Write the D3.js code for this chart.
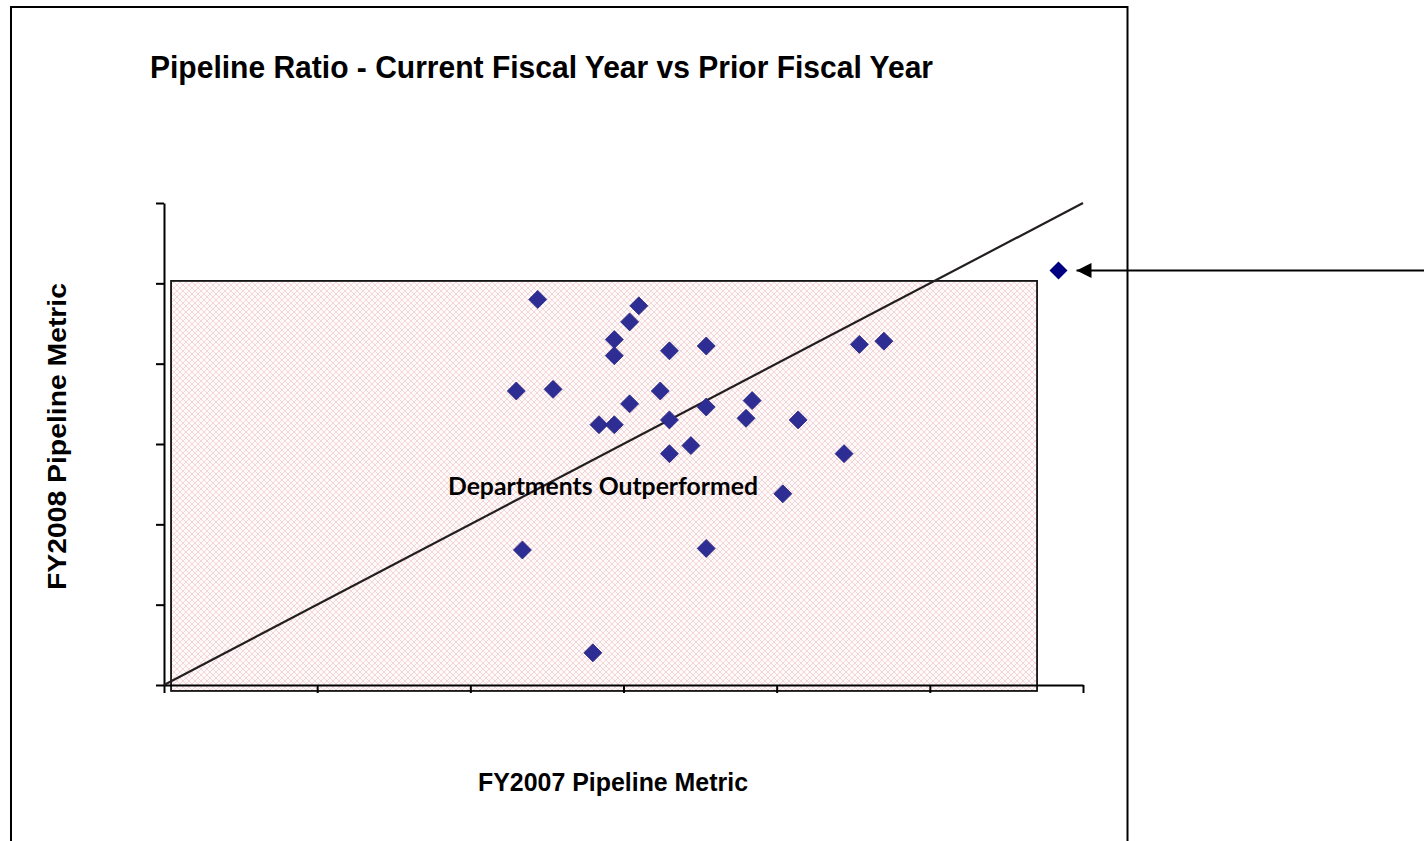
<!DOCTYPE html>
<html>
<head>
<meta charset="utf-8">
<script src="https://cdn.jsdelivr.net/npm/d3@7"></script>
<style>
  html, body { margin: 0; padding: 0; background: #fff; }
  svg { display: block; }
</style>
</head>
<body>
<svg id="chart" width="1424" height="841"></svg>
<script>
// Department pipeline ratios: prior fiscal year (FY2007) vs current (FY2008)
const departments = [
  "D01","D02","D03","D04","D05","D06","D07","D08","D09","D10",
  "D11","D12","D13","D14","D15","D16","D17","D18","D19","D20",
  "D21","D22","D23","D24","D25","D26","D27"
];
const fy2007 = [
  1.22, 1.55, 1.52, 1.47, 1.47, 1.65, 1.77, 2.27, 2.35, 1.15,
  1.27, 1.62, 1.52, 1.77, 1.92, 1.42, 1.47, 1.65, 1.90, 2.07,
  1.72, 1.65, 2.22, 2.02, 1.17, 1.77, 1.40
];
const fy2008 = [
  2.40, 2.36, 2.26, 2.15, 2.05, 2.08, 2.11, 2.12, 2.14, 1.83,
  1.84, 1.83, 1.75, 1.73, 1.77, 1.62, 1.62, 1.65, 1.66, 1.65,
  1.49, 1.44, 1.44, 1.19, 0.84, 0.85, 0.20
];
// Highlighted department, called out with an arrow
const highlightX = [2.92];
const highlightY = [2.58];

// Axis ticks (labels are not shown on the axes)
const xTicks = [0, 0.5, 1, 1.5, 2, 2.5, 3];
const yTicks = [0, 0.5, 1, 1.5, 2, 2.5, 3];

// Shaded band in data units: [x0, x1, y0, y1]
const bandExtent = [0.023, 2.85, -0.037, 2.515];

const titleText = "Pipeline Ratio - Current Fiscal Year vs Prior Fiscal Year";
const xLabelText = "FY2007 Pipeline Metric";
const yLabelText = "FY2008 Pipeline Metric";
const bandLabelText = "Departments Outperformed";

const svg = d3.select("#chart");

const x = d3.scaleLinear().domain([0, 3]).range([164, 1083]);
const y = d3.scaleLinear().domain([0, 3]).range([685, 203]);

// Cross-hatch fill for the shaded band
const defs = svg.append("defs");
const pat = defs.append("pattern")
  .attr("id", "hatch")
  .attr("patternUnits", "userSpaceOnUse")
  .attr("width", 6).attr("height", 6);
pat.append("rect").attr("width", 6).attr("height", 6).attr("fill", "#fffafa");
pat.append("path")
  .attr("d", "M0,0 L6,6 M6,0 L0,6")
  .attr("stroke", "#f5d6d8")
  .attr("stroke-width", 1)
  .attr("fill", "none");

// Outer frame (open at the bottom edge of the page)
svg.append("rect")
  .attr("x", 11).attr("y", 7)
  .attr("width", 1116.5).attr("height", 900)
  .attr("fill", "none")
  .attr("stroke", "#000")
  .attr("stroke-width", 2);

// Title
svg.append("text")
  .attr("x", 150).attr("y", 78)
  .attr("textLength", 783)
  .attr("lengthAdjust", "spacingAndGlyphs")
  .style("font-family", "'Liberation Sans', Arial, sans-serif")
  .style("font-weight", "bold")
  .style("font-size", "32px")
  .attr("fill", "#000")
  .text(titleText);

// Shaded band
svg.append("rect")
  .attr("x", x(bandExtent[0]))
  .attr("y", y(bandExtent[3]))
  .attr("width", x(bandExtent[1]) - x(bandExtent[0]))
  .attr("height", y(bandExtent[2]) - y(bandExtent[3]))
  .attr("fill", "url(#hatch)")
  .attr("stroke", "#111")
  .attr("stroke-width", 1.8);

// Axes
const yAxis = d3.axisLeft(y).tickValues(yTicks).tickSize(8).tickSizeOuter(0).tickFormat("");
const xAxis = d3.axisBottom(x).tickValues(xTicks).tickSize(8).tickSizeOuter(0).tickFormat("");

const gy = svg.append("g").attr("transform", `translate(${x(0)},0)`).call(yAxis);
const gx = svg.append("g").attr("transform", `translate(0,${y(0)})`).call(xAxis);
[gx, gy].forEach(g => {
  g.selectAll("path.domain").attr("stroke", "#000").attr("stroke-width", 2);
  g.selectAll(".tick line").attr("stroke", "#000").attr("stroke-width", 2);
});

// Parity line y = x
svg.append("line")
  .attr("x1", x(0)).attr("y1", y(0))
  .attr("x2", x(3)).attr("y2", y(3))
  .attr("stroke", "#231f20")
  .attr("stroke-width", 2.2);

// Band label
svg.append("text")
  .attr("x", 448).attr("y", 495)
  .attr("textLength", 310)
  .attr("lengthAdjust", "spacingAndGlyphs")
  .style("font-family", "Lato, 'Open Sans', sans-serif")
  .style("font-weight", "bold")
  .style("font-size", "24px")
  .attr("fill", "#000")
  .text(bandLabelText);

// Diamond markers
const diamond = r => `M0,${-r} L${r},0 L0,${r} L${-r},0 Z`;

svg.append("g")
  .selectAll("path")
  .data(departments.map((d, i) => ({ name: d, a: fy2007[i], b: fy2008[i] })))
  .join("path")
  .attr("transform", d => `translate(${x(d.a)},${y(d.b)})`)
  .attr("d", diamond(9))
  .attr("fill", "#2d2d94")
  .attr("stroke", "#262682")
  .attr("stroke-width", 0.8);

svg.append("g")
  .selectAll("path")
  .data(highlightX.map((v, i) => ({ a: v, b: highlightY[i] })))
  .join("path")
  .attr("transform", d => `translate(${x(d.a)},${y(d.b)})`)
  .attr("d", diamond(9))
  .attr("fill", "#000080");

// Call-out arrow pointing at the highlighted department
defs.append("marker")
  .attr("id", "arrowhead")
  .attr("viewBox", "0 0 10 10")
  .attr("refX", 10).attr("refY", 5)
  .attr("markerUnits", "userSpaceOnUse")
  .attr("markerWidth", 16).attr("markerHeight", 15)
  .attr("orient", "auto")
  .append("path")
  .attr("d", "M0,0 L10,5 L0,10 Z")
  .attr("fill", "#000");

svg.append("line")
  .attr("x1", 1424).attr("y1", y(highlightY[0]))
  .attr("x2", x(highlightX[0]) + 18).attr("y2", y(highlightY[0]))
  .attr("stroke", "#000")
  .attr("stroke-width", 2.2)
  .attr("marker-end", "url(#arrowhead)");

// Axis titles
svg.append("text")
  .attr("x", 478).attr("y", 791)
  .attr("textLength", 270)
  .attr("lengthAdjust", "spacingAndGlyphs")
  .style("font-family", "'Liberation Sans', Arial, sans-serif")
  .style("font-weight", "bold")
  .style("font-size", "25px")
  .attr("fill", "#000")
  .text(xLabelText);

svg.append("text")
  .attr("transform", "translate(66,590) rotate(-90)")
  .attr("textLength", 307)
  .attr("lengthAdjust", "spacingAndGlyphs")
  .style("font-family", "'Liberation Sans', Arial, sans-serif")
  .style("font-weight", "bold")
  .style("font-size", "25px")
  .attr("fill", "#000")
  .text(yLabelText);
</script>
</body>
</html>
